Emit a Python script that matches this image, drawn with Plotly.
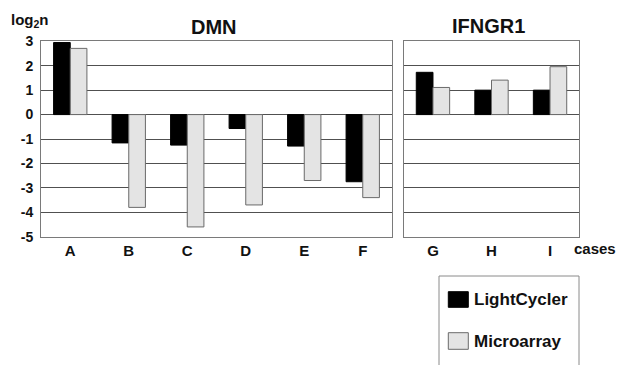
import plotly.graph_objects as go

W, H = 617, 365

cases_dmn = ["A", "B", "C", "D", "E", "F"]
lc_dmn = [2.95, -1.16, -1.25, -0.57, -1.29, -2.75]
ma_dmn = [2.71, -3.80, -4.60, -3.70, -2.70, -3.40]

cases_ifn = ["G", "H", "I"]
lc_ifn = [1.73, 1.00, 1.00]
ma_ifn = [1.11, 1.41, 1.96]

y_ticks = [3, 2, 1, 0, -1, -2, -3, -4, -5]
y_tick_labels = ["3", "2", "1", "0", "-1", "-2", "-3", "-4", "-5"]

LC_COLOR = "#000000"
MA_COLOR = "#e4e4e4"
MA_EDGE = "#6a6a6a"
GRID = "#505050"
FRAME = "#7a7a7a"
FONT = "Liberation Sans, Arial, sans-serif"


def px(x):
    return x / W


def py(y):
    return 1 - y / H


fig = go.Figure()
fig.add_trace(go.Bar(x=cases_dmn, y=lc_dmn, name="LightCycler", xaxis="x", yaxis="y",
                     marker=dict(color=LC_COLOR, line=dict(color="#000000", width=1)),
                     showlegend=False))
fig.add_trace(go.Bar(x=cases_dmn, y=ma_dmn, name="Microarray", xaxis="x", yaxis="y",
                     marker=dict(color=MA_COLOR, line=dict(color=MA_EDGE, width=1)),
                     showlegend=False))
fig.add_trace(go.Bar(x=cases_ifn, y=lc_ifn, name="LightCycler", xaxis="x2", yaxis="y2",
                     marker=dict(color=LC_COLOR, line=dict(color="#000000", width=1)),
                     showlegend=False))
fig.add_trace(go.Bar(x=cases_ifn, y=ma_ifn, name="Microarray", xaxis="x2", yaxis="y2",
                     marker=dict(color=MA_COLOR, line=dict(color=MA_EDGE, width=1)),
                     showlegend=False))

ydom = [py(236.7), py(41.3)]
axis_font = dict(family=FONT, size=14, color="#111111", weight="bold")

common_x = dict(type="category", showgrid=False, showline=True, linecolor=FRAME, linewidth=1,
                mirror=True, ticks="", automargin=False,
                tickfont=dict(family=FONT, size=15, color="#111111", weight="bold"),
                ticklabelstandoff=0)
common_y = dict(range=[-5, 3], tickvals=y_ticks, ticktext=y_tick_labels,
                showgrid=True, gridcolor=GRID, gridwidth=1.4,
                zeroline=True, zerolinecolor=GRID, zerolinewidth=1.4,
                showline=True, linecolor=FRAME, linewidth=1, mirror=True, ticks="",
                automargin=False, tickfont=axis_font)

fig.update_layout(
    width=W, height=H, autosize=False,
    margin=dict(l=0, r=0, t=0, b=0, pad=0),
    paper_bgcolor="white", plot_bgcolor="white",
    barmode="group", bargap=0.43, bargroupgap=0,
    xaxis=dict(domain=[px(41), px(392)], anchor="y", **common_x),
    yaxis=dict(domain=ydom, anchor="x", showticklabels=True, ticklabelstandoff=4, **common_y),
    xaxis2=dict(domain=[px(403.7), px(579.3)], anchor="y2", **common_x),
    yaxis2=dict(domain=ydom, anchor="x2", showticklabels=False, **common_y),
    font=dict(family=FONT, color="#111111"),
)

title_font = dict(family=FONT, size=20, color="#111111", weight="bold")
annos = [
    dict(text="DMN", x=px(214), y=py(27), font=title_font),
    dict(text="IFNGR1", x=px(488), y=py(26), font=title_font),
    dict(text="log<sub>2</sub>n", x=px(30), y=py(20),
         font=dict(family=FONT, size=15, color="#111111", weight="bold")),
    dict(text="cases", x=px(595), y=py(248),
         font=dict(family=FONT, size=15, color="#111111", weight="bold")),
    dict(text="LightCycler", x=px(471.5), y=py(299.5), xanchor="left",
         font=dict(family=FONT, size=17, color="#111111", weight="bold")),
    dict(text="Microarray", x=px(471.5), y=py(341), xanchor="left",
         font=dict(family=FONT, size=17, color="#111111", weight="bold")),
]
for a in annos:
    a.setdefault("xanchor", "center")
    fig.add_annotation(xref="paper", yref="paper", yanchor="middle", showarrow=False, **a)

shapes = [
    dict(type="rect", x0=px(439), x1=px(579), y0=py(276), y1=py(372),
         line=dict(color="#8a8a8a", width=1), fillcolor="rgba(0,0,0,0)"),
    dict(type="rect", x0=px(448.3), x1=px(468.3), y0=py(291.7), y1=py(307.3),
         line=dict(color="#000000", width=1), fillcolor=LC_COLOR),
    dict(type="rect", x0=px(448.3), x1=px(468.3), y0=py(332.7), y1=py(349.3),
         line=dict(color=MA_EDGE, width=1), fillcolor=MA_COLOR),
]
for s in shapes:
    fig.add_shape(xref="paper", yref="paper", **s)

fig.write_html("out.html", config={"displayModeBar": False},
               post_script="document.body.style.margin='0px';document.body.style.overflow='hidden';")
